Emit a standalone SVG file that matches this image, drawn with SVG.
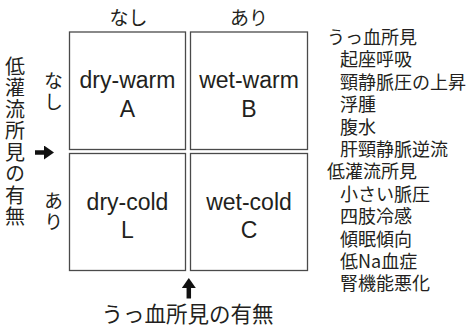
<svg xmlns="http://www.w3.org/2000/svg" width="472" height="327" viewBox="0 0 472 327">
<style>
.box{fill:#fff;stroke:#4a4a4a;stroke-width:1.3}
.en{font-family:"Liberation Sans",Arial,sans-serif;font-size:23px;fill:#231f20;text-anchor:middle}
.jp{font-family:"Noto Sans CJK JP",sans-serif;fill:#231f20}
.list{font-size:18px}
.vt{writing-mode:vertical-rl;text-anchor:start}
.arrow{stroke:#111;stroke-width:4.5;fill:none}
</style>
<defs>
<marker id="ah" markerUnits="userSpaceOnUse" markerWidth="11" markerHeight="14" refX="0" refY="7" orient="auto">
<path d="M0,0 L10,7 L0,14 Z" fill="#111"/>
</marker>
</defs>
<rect width="472" height="327" fill="#fff"/>

<g id="col-labels">
<text class="jp" x="128.5" y="25" font-size="19" text-anchor="middle">なし</text>
<text class="jp" x="249" y="25" font-size="19" text-anchor="middle">あり</text>
</g>

<g id="row-labels">
<text class="jp vt" x="53.5" y="71" font-size="19" letter-spacing="2">なし</text>
<text class="jp vt" x="53.5" y="191" font-size="19" letter-spacing="2">あり</text>
</g>

<g id="axis-y">
<text class="jp vt" x="15" y="56" font-size="20" letter-spacing="1.5">低灌流所見の有無</text>
</g>

<g id="axis-x">
<text class="jp" x="187.5" y="322" font-size="21.5" text-anchor="middle">うっ血所見の有無</text>
</g>

<g id="node-A">
<rect class="box" x="69.5" y="32" width="116" height="117.5"/>
<text class="en" x="127.5" y="88.3">dry-warm</text>
<text class="en" x="127.5" y="116.7">A</text>
</g>
<g id="node-B">
<rect class="box" x="190.5" y="32" width="117" height="117.5"/>
<text class="en" x="249" y="88.3">wet-warm</text>
<text class="en" x="249" y="116.7">B</text>
</g>
<g id="node-L">
<rect class="box" x="69.5" y="153.5" width="116" height="117"/>
<text class="en" x="127.5" y="210">dry-cold</text>
<text class="en" x="127.5" y="238.3">L</text>
</g>
<g id="node-C">
<rect class="box" x="190.5" y="153.5" width="117" height="117"/>
<text class="en" x="249" y="210">wet-cold</text>
<text class="en" x="249" y="238.3">C</text>
</g>

<g id="connectors">
<line class="arrow" x1="35" y1="152.5" x2="44" y2="152.5" marker-end="url(#ah)"/>
<line class="arrow" x1="188.8" y1="298.5" x2="188.8" y2="288" marker-end="url(#ah)"/>
</g>

<g id="legend" class="jp list">
<text x="327" y="44">うっ血所見</text>
<text x="340" y="66.4">起座呼吸</text>
<text x="340" y="88.8">頸静脈圧の上昇</text>
<text x="340" y="111.2">浮腫</text>
<text x="340" y="133.6">腹水</text>
<text x="340" y="156">肝頸静脈逆流</text>
<text x="327" y="178.4">低灌流所見</text>
<text x="340" y="200.8">小さい脈圧</text>
<text x="340" y="223.2">四肢冷感</text>
<text x="340" y="245.6">傾眠傾向</text>
<text x="340" y="268">低Na血症</text>
<text x="340" y="290.4">腎機能悪化</text>
</g>
</svg>
